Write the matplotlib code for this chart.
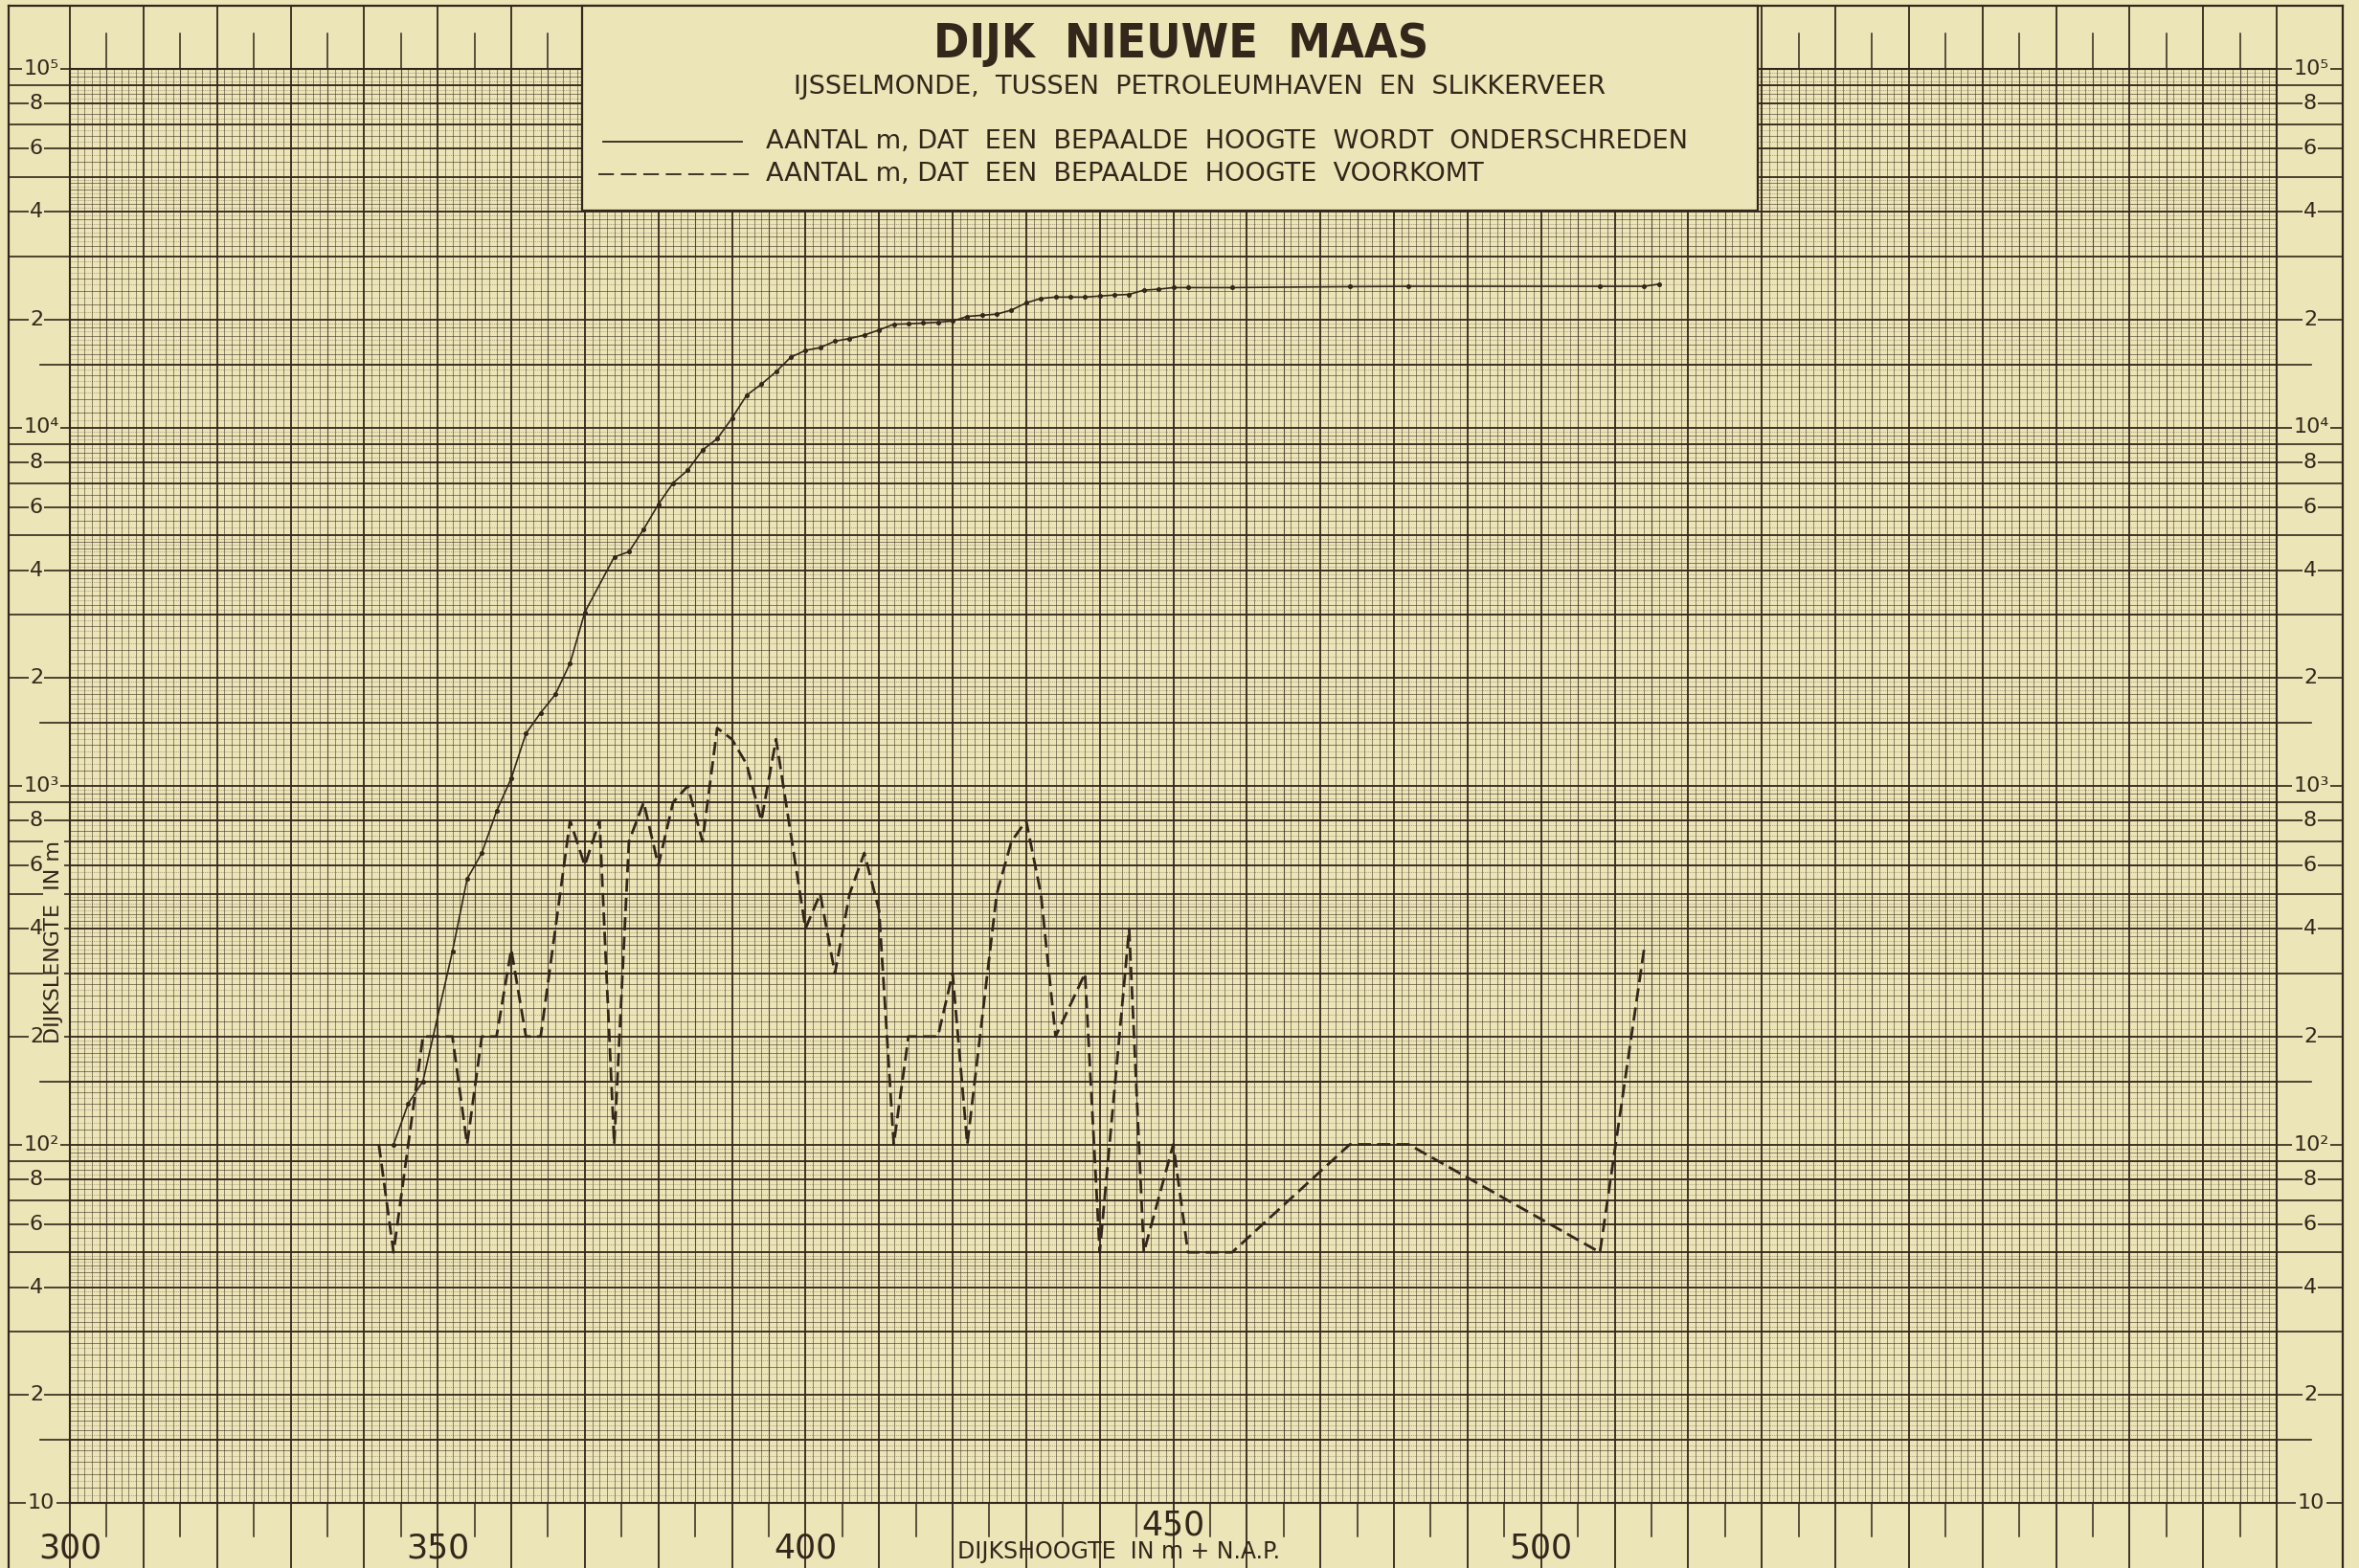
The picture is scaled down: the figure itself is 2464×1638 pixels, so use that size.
import matplotlib
matplotlib.use("Agg")
import matplotlib.pyplot as plt
import matplotlib.transforms as mtransforms
import numpy as np
from matplotlib.lines import Line2D
from matplotlib.patches import Rectangle
from matplotlib.ticker import NullLocator

# aantal m dat een bepaalde hoogte voorkomt (klassen van 2 cm)
hoogte_voorkomt = [342, 344, 348, 350, 352, 354, 356, 358, 360, 362, 364,
                   368, 370, 372, 374, 376, 378, 380, 382, 384, 386, 388,
                   390, 392, 394, 396, 400, 402, 404, 406, 408, 410, 412,
                   414, 416, 418, 420, 422, 426, 428, 430, 432, 434, 438,
                   440, 444, 446, 450, 452, 458, 474, 482, 508, 514]
lengte_voorkomt = [100, 50, 200, 200, 200, 100, 200, 200, 350, 200, 200,
                   800, 600, 800, 100, 700, 900, 600, 900, 1000, 700, 1450,
                   1350, 1150, 800, 1350, 400, 500, 300, 500, 650, 450, 100,
                   200, 200, 200, 300, 100, 500, 700, 800, 500, 200, 300,
                   50, 400, 50, 100, 50, 50, 100, 100, 50, 350]

# aantal m dat een bepaalde hoogte wordt onderschreden
hoogte_onder = [344, 346, 348, 352, 354, 356, 358, 360, 362, 364, 366,
                368, 370, 374, 376, 378, 380, 382, 384, 386, 388, 390,
                392, 394, 396, 398, 400, 402, 404, 406, 408, 410, 412,
                414, 416, 418, 420, 422, 424, 426, 428, 430, 432, 434,
                436, 438, 440, 442, 444, 446, 448, 450, 452, 458, 474,
                482, 508, 514, 516]
lengte_onder = [100, 130, 150, 345, 550, 650, 850, 1050, 1400, 1600, 1800,
                2200, 3050, 4350, 4500, 5200, 6100, 7000, 7600, 8650, 9300, 10600,
                12300, 13200, 14300, 15700, 16400, 16700, 17400, 17700, 18100, 18700, 19400,
                19450, 19550, 19650, 19800, 20400, 20550, 20700, 21250, 22250, 22900, 23100,
                23100, 23100, 23250, 23400, 23500, 24150, 24300, 24550, 24550, 24550, 24700,
                24750, 24750, 24750, 25100]

x_tick_values = [300, 350, 400, 450, 500]
decade_values = [10, 100, 1000, 10000, 100000]
decade_labels = ["10", "10²", "10³", "10⁴", "10⁵"]
labelled_mantissas = [2, 4, 6, 8]

PAPER = "#ece5b8"
INK = "#33261a"
W, H = 2464, 1638


def fx(px):
    return px / W


def fy(py):
    return 1 - py / H


fig = plt.figure(figsize=(W / 100, H / 100), dpi=100, facecolor=PAPER)
plt.rcParams["font.family"] = ["DejaVu Sans"]

# grid area of the semi-log paper, in pixels
GX0, GX1, GY0, GY1 = 73, 2378, 72, 1570
FRAME_L, FRAME_R, FRAME_T = 9, 2447, 6

ax = fig.add_axes([fx(GX0), fy(GY1), fx(GX1) - fx(GX0), fy(GY0) - fy(GY1)])
ax.set_facecolor(PAPER)
ax.set_xlim(300, 600)
ax.set_yscale("log")
ax.set_ylim(10, 1e5)
for axis in (ax.xaxis, ax.yaxis):
    axis.set_major_locator(NullLocator())
    axis.set_minor_locator(NullLocator())
for sp in ax.spines.values():
    sp.set_color(INK)
    sp.set_linewidth(1.5)

# millimetre lines along x
units = np.arange(300, 601)
ax.vlines(units[units % 5 != 0], 10, 1e5, color=INK, lw=0.55, alpha=0.65, zorder=1)
ax.vlines(units[units % 10 == 5], 10, 1e5, color=INK, lw=0.8, alpha=0.8, zorder=1)
ax.vlines(units[units % 10 == 0], 10, 1e5, color=INK, lw=1.3, zorder=1)

# log divisions along y
fine = np.r_[np.arange(1.1, 2, 0.1), np.arange(2.2, 5, 0.2), np.arange(5.5, 10, 0.5)]
dots = np.r_[np.arange(1.05, 2, 0.1), np.arange(2.1, 5, 0.2), np.arange(5.25, 10, 0.5)]
major = np.array([1, 1.5, 2, 3, 4, 5, 6, 7, 8, 9])
for d in decade_values[:-1]:
    ax.hlines(dots * d, 300, 600, color=INK, lw=0.45, alpha=0.55,
              linestyles=(0, (1.5, 1.5)), zorder=1)
    ax.hlines(fine * d, 300, 600, color=INK, lw=0.55, alpha=0.7, zorder=1)
    ax.hlines(major * d, 300, 600, color=INK, lw=1.3, zorder=1)

# the two curves
ax.plot(hoogte_onder, lengte_onder, color=INK, lw=1.2, marker="o", ms=2.6,
        zorder=4, solid_joinstyle="round")
ax.plot(hoogte_voorkomt, lengte_voorkomt, color=INK, lw=2.0, dashes=(5, 2.3),
        zorder=4)

left_tr = mtransforms.blended_transform_factory(fig.transFigure, ax.transData)
bottom_tr = mtransforms.blended_transform_factory(ax.transData, fig.transFigure)

# outer frame
for xs, ys in [([fx(FRAME_L)] * 2, [0, fy(FRAME_T)]),
               ([fx(FRAME_R)] * 2, [0, fy(FRAME_T)]),
               ([fx(FRAME_L), fx(FRAME_R)], [fy(FRAME_T)] * 2)]:
    fig.add_artist(Line2D(xs, ys, color=INK, lw=1.6, transform=fig.transFigure, zorder=2))

# margin lines and y scale labels on both sides
for d in decade_values:
    mants = major if d < 1e5 else np.array([1])
    for m in mants:
        v = m * d
        x_in = fx(42) if m == 1.5 else fx(FRAME_L)
        x_out = fx(2414) if m == 1.5 else fx(FRAME_R)
        fig.add_artist(Line2D([x_in, fx(GX0)], [v, v], color=INK, lw=1.2,
                              transform=left_tr, zorder=2))
        fig.add_artist(Line2D([fx(GX1), x_out], [v, v], color=INK, lw=1.2,
                              transform=left_tr, zorder=2))

label_box = dict(facecolor=PAPER, edgecolor="none", pad=1.0)
for d, lab in zip(decade_values, decade_labels):
    for xp in (43, 2414):
        fig.text(fx(xp), d, lab, transform=left_tr, ha="center", va="center",
                 fontsize=16, color=INK, bbox=label_box, zorder=3)
for d in decade_values[:-1]:
    for m in labelled_mantissas:
        for xp in (38, 2413):
            fig.text(fx(xp), m * d, str(m), transform=left_tr, ha="center",
                     va="center", fontsize=16, color=INK, bbox=label_box, zorder=3)

# scale strips above and below the grid
for u in range(300, 601, 5):
    if u % 10 == 0:
        fig.add_artist(Line2D([u, u], [fy(GY0), fy(FRAME_T)], color=INK, lw=1.3,
                              transform=bottom_tr, zorder=2))
        fig.add_artist(Line2D([u, u], [0, fy(GY1)], color=INK, lw=1.3,
                              transform=bottom_tr, zorder=2))
    else:
        fig.add_artist(Line2D([u, u], [fy(GY0), fy(35)], color=INK, lw=1.1,
                              transform=bottom_tr, zorder=2))
        fig.add_artist(Line2D([u, u], [fy(1605), fy(GY1)], color=INK, lw=1.1,
                              transform=bottom_tr, zorder=2))

for u in x_tick_values:
    ypix = 1593 if u == 450 else 1618
    fig.text(u, fy(ypix), str(u), transform=bottom_tr, ha="center", va="center",
             fontsize=25, color=INK, zorder=3)

fig.text(fx(1168), fy(1621), "DIJKSHOOGTE  IN m + N.A.P.", ha="center", va="center",
         fontsize=17, color=INK, zorder=3)
fig.text(fx(56), fy(984), "DIJKSLENGTE  IN m", rotation=90, ha="center", va="center",
         fontsize=16, color=INK, bbox=dict(facecolor=PAPER, edgecolor="none", pad=0.5),
         zorder=3)

# title block with legend
fig.add_artist(Rectangle((fx(608), fy(220)), fx(1836) - fx(608), fy(FRAME_T) - fy(220),
                         transform=fig.transFigure, facecolor=PAPER, edgecolor=INK,
                         lw=1.6, zorder=5))
fig.text(fx(1234), fy(46), "DIJK  NIEUWE  MAAS", ha="center", va="center",
         fontsize=36, fontweight="bold", fontstretch="condensed", color=INK, zorder=6)
fig.text(fx(1253), fy(91), "IJSSELMONDE,  TUSSEN  PETROLEUMHAVEN  EN  SLIKKERVEER",
         ha="center", va="center", fontsize=19.5, color=INK, zorder=6)
fig.add_artist(Line2D([fx(630), fx(775)], [fy(148)] * 2, color=INK, lw=1.3,
                      transform=fig.transFigure, zorder=6))
fig.add_artist(Line2D([fx(625), fx(783)], [fy(182)] * 2, color=INK, lw=1.3,
                      dashes=(9, 4), transform=fig.transFigure, zorder=6))
fig.text(fx(800), fy(148), "AANTAL m, DAT  EEN  BEPAALDE  HOOGTE  WORDT  ONDERSCHREDEN",
         ha="left", va="center", fontsize=19.5, color=INK, zorder=6)
fig.text(fx(800), fy(182), "AANTAL m, DAT  EEN  BEPAALDE  HOOGTE  VOORKOMT",
         ha="left", va="center", fontsize=19.5, color=INK, zorder=6)

fig.savefig("out.png", dpi=100, facecolor=PAPER)
